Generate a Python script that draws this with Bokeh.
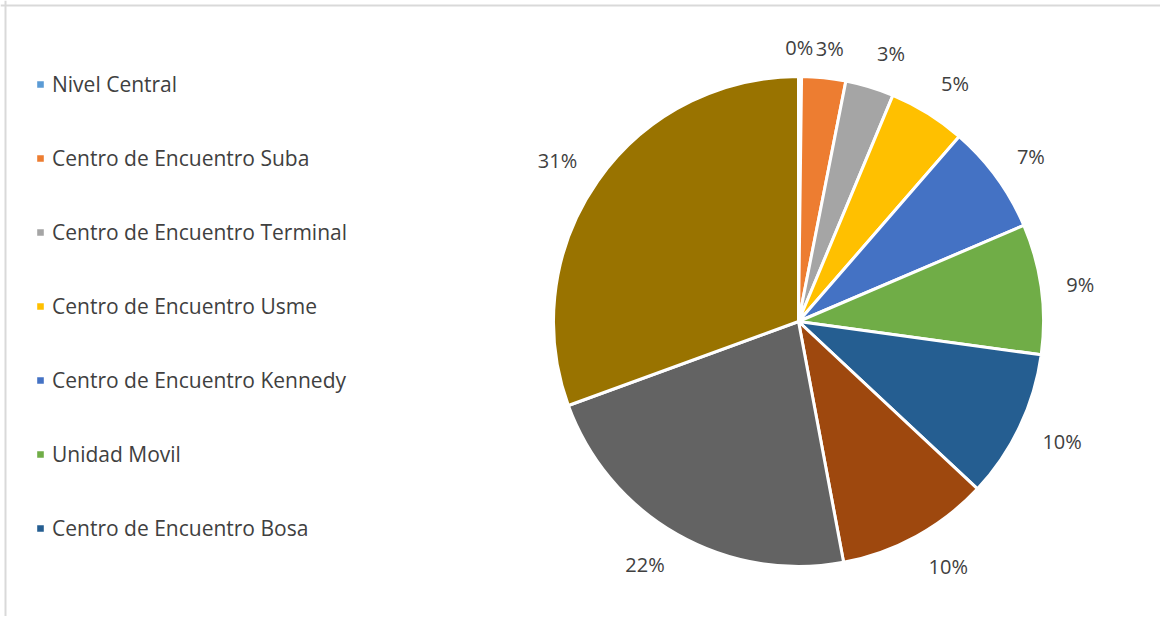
import math
from bokeh.plotting import figure
from bokeh.models import Range1d, ColumnDataSource, Legend, LegendItem, Span
from bokeh.core.properties import value
from bokeh.embed import file_html
from bokeh.resources import INLINE

# Data (percent shares, clockwise from 12 o'clock)
legend_names = ["Nivel Central", "Centro de Encuentro Suba", "Centro de Encuentro Terminal",
                "Centro de Encuentro Usme", "Centro de Encuentro Kennedy", "Unidad Movil",
                "Centro de Encuentro Bosa"]
shares = [0.2, 2.9, 3.2, 5.1, 7.2, 8.6, 9.8, 10.1, 22.4, 30.6]
colors = ["#5B9BD5", "#ED7D31", "#A5A5A5", "#FFC000", "#4472C4", "#70AD47",
          "#255E91", "#9E480E", "#636363", "#997300"]

W, H = 1160, 616
CX, CY, R = 798, H - 321, 245
GAP = 25
FS = 20

total = sum(shares)
starts, ends, lx, ly, labels, aligns = [], [], [], [], [], []
cum = 0.0
for i, s in enumerate(shares):
    a0 = math.pi / 2 - 2 * math.pi * (cum + s) / total
    a1 = math.pi / 2 - 2 * math.pi * cum / total
    mid = math.pi / 2 - 2 * math.pi * (cum + s / 2) / total
    starts.append(a0)
    ends.append(a1)
    txt = f"{round(s)}%"
    labels.append(txt)
    ux, uy = math.cos(mid), math.sin(mid)
    if i < 2:
        # two crowded labels at the top, set side by side
        lx.append(CX + 274 * ux + (13 if i == 0 else -11))
        ly.append(CY + 274 * uy)
        aligns.append("right" if i == 0 else "left")
    else:
        w = 0.57 * FS * (len(txt) - 1) + 0.84 * FS
        hgt = FS
        lx.append(CX + (R + GAP) * ux + math.copysign(w / 2, ux))
        ly.append(CY + (R + GAP) * uy + hgt / 2 * uy)
        aligns.append("center")
    cum += s

src = ColumnDataSource(dict(start=starts, end=ends, color=colors))
lsrc = ColumnDataSource(dict(x=lx, y=ly, text=labels, align=aligns))

p = figure(width=W, height=H, output_backend="svg", toolbar_location=None,
           x_range=Range1d(0, W), y_range=Range1d(0, H), min_border=0)
p.axis.visible = False
p.grid.visible = False
p.outline_line_color = None
p.background_fill_color = "white"

p.add_layout(Span(location=H - 5, dimension="width", line_color="#d9d9d9", line_width=2))
p.add_layout(Span(location=5, dimension="height", line_color="#d9d9d9", line_width=2))

wr = p.wedge(x=CX, y=CY, radius=R, start_angle="start", end_angle="end",
             fill_color="color", line_color="white", line_width=3, source=src)

p.text(x="x", y="y", text="text", source=lsrc, text_align="align", text_baseline="middle",
       text_font=value("Open Sans"), text_font_size=f"{FS}px", text_color="#404040")

items = [LegendItem(label=n, renderers=[wr], index=i) for i, n in enumerate(legend_names)]
leg = Legend(items=items, location=(34, 73), orientation="vertical",
             glyph_width=12, glyph_height=12, label_height=30, spacing=44,
             label_standoff=6, padding=0, margin=0,
             border_line_color=None, background_fill_alpha=0,
             label_text_font="Open Sans", label_text_font_size="21px",
             label_text_color="#404040")
p.add_layout(leg)

open("out.html", "w").write(file_html(p, INLINE))
